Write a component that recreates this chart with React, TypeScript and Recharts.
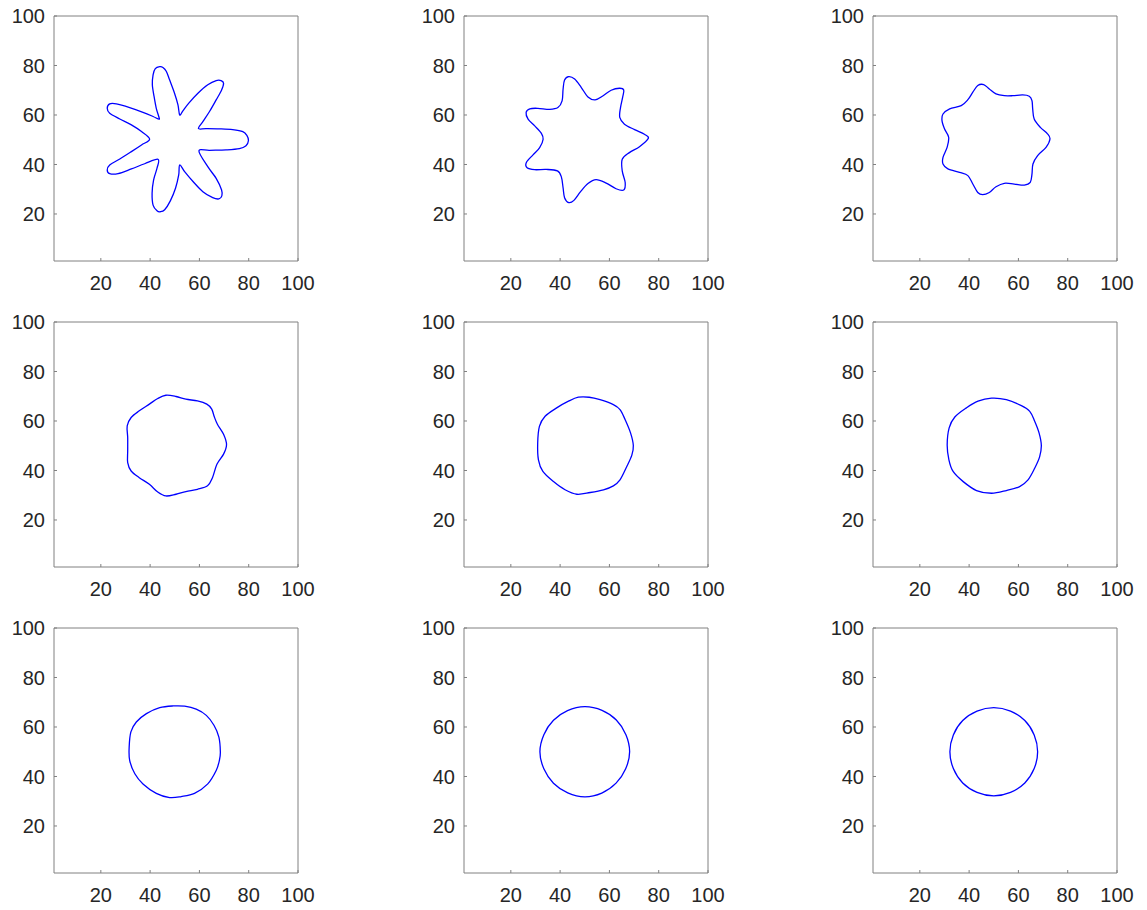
import { LineChart, Line, XAxis, YAxis } from 'recharts';

type Pt = [number, number];

const TICKS = [20, 40, 60, 80, 100];

const STEP_1: Pt[] = [
  [79.9, 49.7], [79.3, 51.7], [77.6, 53.3], [73.5, 54.1], [68.1, 54.4], [62.7, 54.5], [59.6, 54.5],
  [61.4, 57.3], [64.1, 61.4], [66.8, 66.1], [69.0, 70.1], [69.8, 72.8], [68.8, 73.9], [66.8, 73.9],
  [63.4, 72.2], [59.4, 68.8], [55.7, 64.8], [53.3, 61.7], [52.0, 60.0],
  [51.3, 64.1], [49.9, 68.8], [47.9, 74.2], [46.6, 77.6], [45.2, 79.2], [43.9, 79.5], [42.1, 78.7],
  [41.2, 76.2], [40.9, 72.2], [41.6, 67.5], [42.5, 62.7], [43.5, 59.4], [43.6, 58.3],
  [41.2, 59.4], [37.1, 61.1], [31.7, 63.0], [26.3, 64.5], [23.6, 64.5], [22.6, 62.7], [23.6, 60.7],
  [27.7, 58.4], [32.4, 56.0], [36.5, 53.3], [39.8, 50.2],
  [36.5, 47.9], [32.4, 45.2], [27.7, 42.2], [23.6, 39.8], [22.6, 37.8], [23.6, 36.3], [27.0, 36.3],
  [32.4, 38.2], [37.8, 40.3], [43.2, 42.1],
  [42.8, 38.5], [41.4, 33.7], [40.8, 28.4], [41.2, 23.6], [42.8, 21.3], [44.1, 20.9], [45.9, 21.7],
  [48.2, 25.3], [50.3, 30.4], [51.6, 35.8], [52.0, 39.8],
  [54.0, 37.1], [57.4, 33.1], [61.4, 29.0], [65.4, 26.6], [67.9, 26.1], [69.1, 27.3], [69.0, 29.7],
  [66.8, 34.4], [63.4, 39.1], [59.8, 45.5],
  [64.1, 45.7], [70.8, 45.9], [76.2, 46.4], [78.9, 47.6],
];

const STEP_2: Pt[] = [
  [75.8, 50.6], [74.2, 52.2], [70.2, 54.1], [66.1, 56.3], [64.2, 59.0], [64.5, 63.0], [65.4, 67.3],
  [65.8, 70.1], [64.1, 70.8], [60.7, 70.0], [57.3, 67.7], [54.2, 66.1], [51.3, 67.3], [48.6, 71.1],
  [45.9, 74.5], [43.5, 75.5], [41.8, 74.1], [41.2, 70.4], [40.8, 65.7], [39.1, 63.0], [35.8, 62.3],
  [31.0, 62.7], [27.7, 62.5], [26.2, 61.0], [27.0, 58.3], [29.7, 55.6], [32.4, 52.6], [33.1, 50.2],
  [31.7, 46.8], [29.0, 43.9], [26.3, 40.8], [26.6, 38.7], [29.7, 37.9], [34.4, 38.0], [38.9, 37.4],
  [40.5, 35.0], [41.2, 30.6], [41.8, 26.6], [43.5, 24.6], [45.6, 25.5], [48.3, 29.0], [51.3, 32.3],
  [54.6, 33.9], [58.7, 32.5], [62.7, 30.2], [65.8, 29.7], [66.4, 32.7], [65.2, 37.4], [65.2, 42.1],
  [68.1, 44.8], [72.2, 47.2],
];

const STEP_3: Pt[] = [
  [72.8, 50.3], [71.8, 52.4], [68.9, 55.0], [66.4, 58.4], [65.8, 62.4], [65.5, 65.8], [64.4, 67.6],
  [61.7, 68.1], [57.7, 67.8], [54.3, 67.8], [50.9, 68.5], [48.2, 70.5], [45.9, 72.3], [43.5, 71.9],
  [41.5, 69.2], [39.5, 66.2], [36.8, 63.8], [32.1, 62.5], [29.4, 60.4], [29.0, 57.7], [30.0, 54.4],
  [31.7, 51.0], [31.1, 47.0], [29.4, 42.9], [29.4, 40.2], [31.4, 38.2], [36.1, 36.8], [39.5, 35.5],
  [41.5, 32.1], [43.5, 28.7], [45.5, 27.8], [48.2, 28.7], [50.9, 31.0], [54.3, 32.4], [58.3, 32.1],
  [62.4, 31.7], [64.8, 32.8], [65.5, 36.1], [65.9, 40.2], [67.8, 43.6], [71.2, 46.9],
];

const STEP_4: Pt[] = [
  [71.0, 50.4], [69.8, 54.6], [67.3, 58.7], [66.0, 61.8], [65.0, 64.8], [63.0, 66.8], [59.2, 68.1],
  [54.5, 68.8], [50.5, 69.9], [46.4, 70.4], [43.1, 69.1], [39.7, 66.8], [35.6, 64.1], [32.3, 61.4],
  [30.7, 58.0], [30.9, 53.3], [30.9, 47.9], [30.9, 43.2], [32.3, 39.8], [35.6, 37.1], [39.7, 34.4],
  [43.1, 31.3], [46.4, 29.7], [50.5, 30.4], [54.5, 31.5], [59.2, 32.4], [63.3, 33.8], [65.3, 37.1],
  [67.1, 42.5], [69.8, 46.6],
];

const STEP_5: Pt[] = [
  [69.7, 50.1], [68.6, 55.1], [66.4, 60.5], [64.3, 64.6], [61.6, 66.6], [56.2, 68.6], [51.8, 69.6],
  [47.4, 69.6], [43.4, 68.0], [38.6, 65.3], [33.9, 61.9], [31.6, 57.8], [30.9, 51.1], [31.2, 44.3],
  [33.0, 39.6], [37.3, 35.5], [42.0, 32.2], [46.8, 30.4], [52.2, 31.1], [57.6, 32.2], [61.6, 33.8],
  [64.3, 36.2], [67.0, 41.5], [69.1, 46.2],
];

const STEP_6: Pt[] = [
  [69.3, 50.1], [68.4, 55.1], [66.6, 59.9], [64.6, 63.9], [61.2, 66.2], [55.1, 68.6], [49.1, 69.2],
  [43.6, 68.0], [38.9, 65.3], [34.2, 61.6], [31.9, 57.2], [31.1, 50.4], [31.8, 44.3], [33.5, 39.6],
  [37.6, 35.5], [43.0, 31.9], [49.1, 30.8], [55.1, 31.9], [60.5, 33.5], [63.9, 36.2], [66.6, 40.9],
  [68.6, 45.5],
];

const STEP_7: Pt[] = [
  [68.5, 49.9], [67.9, 55.9], [65.9, 60.7], [62.8, 64.7], [58.7, 67.2], [54.0, 68.4], [49.3, 68.5],
  [43.9, 67.8], [38.5, 65.4], [34.4, 62.0], [32.2, 58.0], [31.5, 51.9], [31.7, 46.5], [33.8, 41.1],
  [37.1, 37.0], [42.5, 33.2], [47.9, 31.5], [52.6, 31.9], [58.0, 33.2], [63.4, 37.0], [66.8, 42.4],
  [68.1, 46.5],
];

const STEP_8: Pt[] = [
  [68.2, 50.0], [66.7, 56.9], [62.8, 62.8], [57.0, 66.7], [50.0, 68.2], [43.0, 66.6], [37.3, 62.7],
  [33.4, 56.9], [31.8, 50.0], [33.4, 43.1], [37.3, 37.3], [43.1, 33.4], [50.0, 31.8], [56.9, 33.3],
  [62.7, 37.3], [66.6, 43.1],
];

const STEP_9: Pt[] = [
  [67.8, 50.0], [66.4, 56.8], [62.6, 62.6], [56.8, 66.4], [50.0, 67.8], [43.2, 66.4], [37.4, 62.6],
  [33.6, 56.8], [32.2, 50.0], [33.6, 43.2], [37.4, 37.4], [43.2, 33.6], [50.0, 32.2], [56.8, 33.6],
  [62.6, 37.4], [66.4, 43.2],
];

const SNAPSHOTS = [STEP_1, STEP_2, STEP_3, STEP_4, STEP_5, STEP_6, STEP_7, STEP_8, STEP_9];

const COL_LEFT = [54, 464, 873];
const ROW_TOP = [16, 322, 628];
const AXIS = '#808080';
const LABEL = { fill: '#262626', fontSize: 20, fontFamily: 'Liberation Sans, Arial, sans-serif' };

// recharts takes a d3-style curve factory; this one closes the loop with a Catmull-Rom spline
function closedSpline(context: any) {
  let pts: number[][] = [];
  return {
    areaStart() {},
    areaEnd() {},
    lineStart() {
      pts = [];
    },
    point(x: number, y: number) {
      pts.push([x, y]);
    },
    lineEnd() {
      const n = pts.length;
      if (n < 3) return;
      context.moveTo(pts[0][0], pts[0][1]);
      for (let i = 0; i < n; i++) {
        const a = pts[(i + n - 1) % n];
        const b = pts[i];
        const c = pts[(i + 1) % n];
        const d = pts[(i + 2) % n];
        context.bezierCurveTo(
          b[0] + (c[0] - a[0]) / 6,
          b[1] + (c[1] - a[1]) / 6,
          c[0] - (d[0] - b[0]) / 6,
          c[1] - (d[1] - b[1]) / 6,
          c[0],
          c[1],
        );
      }
      context.closePath();
    },
  };
}

function Panel({ points, left, top }: { points: Pt[]; left: number; top: number }) {
  const data = points.map(([x, y]) => ({ x, y }));
  return (
    <div style={{ position: 'absolute', left: left - 50, top: top - 11 }}>
      <LineChart width={325} height={296} data={data} margin={{ top: 10, right: 30, bottom: 0, left: 0 }}>
        <XAxis
          xAxisId="b"
          dataKey="x"
          type="number"
          domain={[1, 100]}
          ticks={TICKS}
          interval={0}
          allowDataOverflow
          height={40}
          stroke={AXIS}
          tickSize={-3}
          tickMargin={18}
          tick={LABEL}
        />
        <XAxis
          xAxisId="t"
          orientation="top"
          dataKey="x"
          type="number"
          domain={[1, 100]}
          ticks={TICKS}
          interval={0}
          allowDataOverflow
          height={1}
          stroke={AXIS}
          tickSize={-3}
          tick={false}
        />
        <YAxis
          yAxisId="l"
          type="number"
          domain={[1, 100]}
          ticks={TICKS}
          interval={0}
          allowDataOverflow
          width={50}
          stroke={AXIS}
          tickSize={-3}
          tickMargin={12}
          tick={LABEL}
        />
        <YAxis
          yAxisId="r"
          orientation="right"
          type="number"
          domain={[1, 100]}
          ticks={TICKS}
          interval={0}
          allowDataOverflow
          width={1}
          stroke={AXIS}
          tickSize={-3}
          tick={false}
        />
        <Line
          xAxisId="b"
          yAxisId="l"
          dataKey="y"
          type={closedSpline as any}
          stroke="#0000ff"
          strokeWidth={1.3}
          dot={false}
          activeDot={false}
          isAnimationActive={false}
        />
      </LineChart>
    </div>
  );
}

export default function App() {
  return (
    <div style={{ position: 'absolute', left: 0, top: 0, width: 1147, height: 910, background: '#fff' }}>
      {SNAPSHOTS.map((pts, i) => (
        <Panel key={i} points={pts} left={COL_LEFT[i % 3]} top={ROW_TOP[Math.floor(i / 3)]} />
      ))}
    </div>
  );
}
